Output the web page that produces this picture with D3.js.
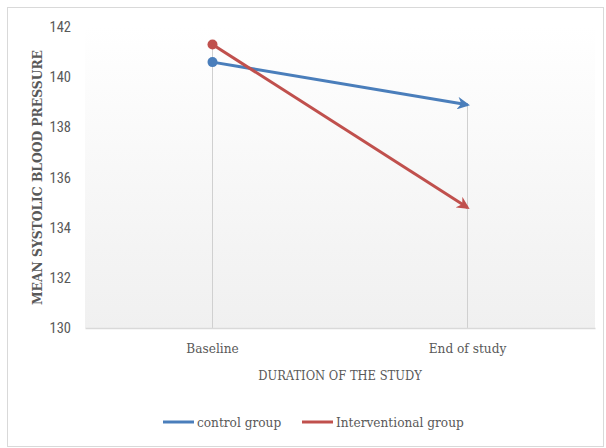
<!DOCTYPE html>
<html>
<head>
<meta charset="utf-8">
<script src="https://cdn.jsdelivr.net/npm/d3@7"></script>
<style>
  html, body { margin: 0; padding: 0; background: #fff; }
  svg { display: block; }
</style>
</head>
<body>
<svg id="chart" width="606" height="448"></svg>
<script>
// Mean systolic blood pressure at the two study time points
const categories = ["Baseline", "End of study"];
const controlGroup = [140.6, 138.9];
const interventionalGroup = [141.3, 134.8];
const seriesNames = ["control group", "Interventional group"];
const yTicks = [130, 132, 134, 136, 138, 140, 142];

const series = [
  { name: seriesNames[0], values: controlGroup, color: "#4a7ebb" },
  { name: seriesNames[1], values: interventionalGroup, color: "#c0504d" }
];

const svg = d3.select("#chart");
const W = 606, H = 448;
const plot = { left: 85, right: 595, top: 27, bottom: 328 };

const textColor = "#595959";
const serif = "'DejaVu Serif Condensed', 'DejaVu Serif', serif";
const sans = "'Liberation Sans Narrow', 'Roboto Condensed', 'Liberation Sans', sans-serif";

// outer chart border
svg.append("rect")
  .attr("x", 7.5).attr("y", 7.5)
  .attr("width", W - 10).attr("height", H - 9)
  .attr("fill", "#fff").attr("stroke", "#d9d9d9");

const defs = svg.append("defs");
const grad = defs.append("linearGradient")
  .attr("id", "plotBg").attr("x1", 0).attr("y1", 0).attr("x2", 0).attr("y2", 1);
grad.append("stop").attr("offset", "0%").attr("stop-color", "#ffffff");
grad.append("stop").attr("offset", "100%").attr("stop-color", "#f0f0f0");

series.forEach((s, i) => {
  defs.append("marker")
    .attr("id", "arrow" + i)
    .attr("viewBox", "0 0 10 10")
    .attr("refX", 8).attr("refY", 5)
    .attr("markerWidth", 4.2).attr("markerHeight", 4.2)
    .attr("markerUnits", "strokeWidth")
    .attr("orient", "auto")
    .append("path")
    .attr("d", "M0,0 L10,5 L0,10 L3,5 Z")
    .attr("fill", s.color);
});

svg.append("rect")
  .attr("x", plot.left).attr("y", plot.top)
  .attr("width", plot.right - plot.left).attr("height", plot.bottom - plot.top)
  .attr("fill", "url(#plotBg)");

const x = d3.scaleBand().domain(categories).range([plot.left, plot.right]);
const y = d3.scaleLinear().domain([130, 142]).range([plot.bottom, plot.top]);
const cx = c => x(c) + x.bandwidth() / 2;

// drop lines from the highest point at each category
categories.forEach((c, i) => {
  const top = d3.max(series, s => s.values[i]);
  svg.append("line")
    .attr("x1", cx(c)).attr("x2", cx(c))
    .attr("y1", y(top)).attr("y2", plot.bottom)
    .attr("stroke", "#d0d0d0").attr("stroke-width", 1);
});

// x axis
const xAxis = svg.append("g")
  .attr("transform", `translate(0,${plot.bottom})`)
  .call(d3.axisBottom(x).tickSize(0).tickPadding(15));
xAxis.select(".domain").attr("stroke", "#d9d9d9").attr("stroke-width", 1.5);
xAxis.selectAll("text")
  .attr("fill", textColor).attr("font-family", serif)
  .attr("font-size", 13.5);

// y axis
const yAxis = svg.append("g")
  .attr("transform", `translate(${plot.left},0)`)
  .call(d3.axisLeft(y).tickValues(yTicks).tickSize(0).tickPadding(14));
yAxis.select(".domain").remove();
yAxis.selectAll("text")
  .attr("fill", textColor).attr("font-family", sans)
  .attr("font-size", 14.5);

// axis titles
svg.append("text")
  .attr("x", 340).attr("y", 380)
  .attr("text-anchor", "middle")
  .attr("fill", textColor).attr("font-family", serif).attr("font-size", 12.8)
  .text("DURATION OF THE STUDY");

svg.append("text")
  .attr("transform", `translate(41.5,177.5) rotate(-90)`)
  .attr("text-anchor", "middle")
  .attr("fill", textColor).attr("font-family", serif).attr("font-size", 13)
  .attr("font-weight", "bold")
  .attr("textLength", 255).attr("lengthAdjust", "spacingAndGlyphs")
  .text("MEAN SYSTOLIC BLOOD PRESSURE");

// series lines
const line = d3.line().x((d, i) => cx(categories[i])).y(d => y(d));
series.forEach((s, i) => {
  svg.append("path")
    .datum(s.values)
    .attr("d", line)
    .attr("fill", "none")
    .attr("stroke", s.color)
    .attr("stroke-width", 3)
    .attr("marker-end", `url(#arrow${i})`);
  svg.append("circle")
    .attr("cx", cx(categories[0])).attr("cy", y(s.values[0]))
    .attr("r", 5).attr("fill", s.color);
});

// legend
const legendItems = [
  { x: 163, s: series[0] },
  { x: 302, s: series[1] }
];
legendItems.forEach(it => {
  svg.append("line")
    .attr("x1", it.x).attr("x2", it.x + 31)
    .attr("y1", 422).attr("y2", 422)
    .attr("stroke", it.s.color).attr("stroke-width", 3);
  svg.append("text")
    .attr("x", it.x + 34).attr("y", 426.5)
    .attr("fill", textColor).attr("font-family", serif).attr("font-size", 13.5)
    .text(it.s.name);
});
</script>
</body>
</html>
